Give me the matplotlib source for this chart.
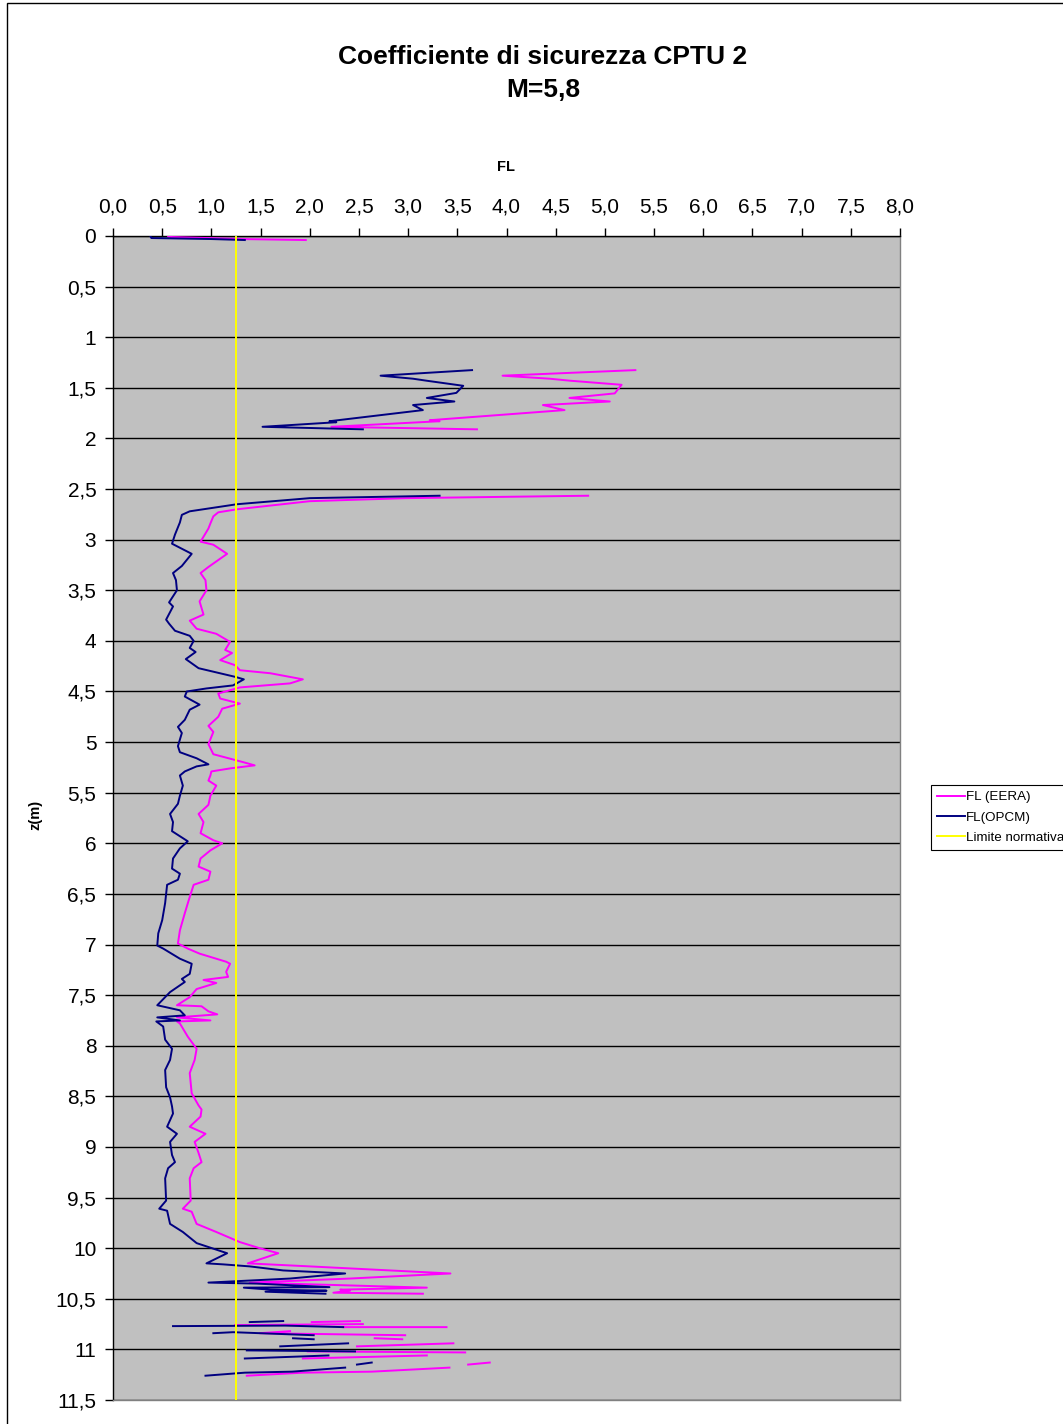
import numpy as np
import matplotlib
matplotlib.use('Agg')
import matplotlib.pyplot as plt
from matplotlib.ticker import FuncFormatter, MultipleLocator
from matplotlib.patches import Rectangle

plt.rcParams['font.family'] = ['Liberation Sans', 'DejaVu Sans']

nan = np.nan

# FL (OPCM) - depth z(m) and safety factor, nan = gap in the record
z_opcm = [0.0, 0.02, 0.03, 0.04, nan,
          1.325, 1.38, 1.41, 1.43, 1.48, 1.55, 1.60, 1.635, 1.67, 1.72, 1.83, 1.84, 1.885, 1.91, nan,
          2.566, 2.59, 2.65, 2.72, 2.755, 2.83, 2.95, 3.04, 3.14, 3.26, 3.33, 3.40, 3.50, 3.62, 3.66,
          3.79, 3.83, 3.90, 3.95, 4.00, 4.07, 4.11, 4.18, 4.27, 4.32, 4.355, 4.38, 4.44, 4.47, 4.50,
          4.55, 4.63, 4.68, 4.78, 4.85, 4.91, 5.04, 5.10, 5.16, 5.22, 5.24, 5.29, 5.33, 5.43, 5.53,
          5.61, 5.71, 5.79, 5.88, 5.98, 6.05, 6.15, 6.25, 6.30, 6.36, 6.41, 6.59, 6.76, 6.89, 7.01,
          7.04, 7.14, 7.19, 7.29, 7.34, 7.37, 7.47, 7.60, 7.65, 7.70, 7.72, 7.75, 7.76, 7.81, 7.94,
          8.03, 8.14, 8.24, 8.41, 8.51, 8.60, 8.67, 8.80, 8.87, 8.95, 9.08, 9.15, 9.21, 9.31, 9.53,
          9.61, 9.63, 9.76, 9.84, 9.95, 10.05, 10.15, 10.16, 10.18, 10.22, 10.25, 10.30, 10.34, 10.35,
          10.385, 10.39, 10.41, 10.42, 10.43, 10.45, nan,
          10.73, 10.72, nan, 10.77, 10.765, 10.78, nan, 10.84, 10.83, 10.86, nan, 10.89, 10.90, nan,
          10.97, 10.94, nan, 11.01, 11.02, nan, 11.09, 11.06, nan, 11.15, 11.13, nan,
          11.26, 11.23, 11.22, 11.18]
fl_opcm = [0.38, 0.39, 1.00, 1.34, nan,
           3.65, 2.72, 3.05, 3.19, 3.56, 3.49, 3.19, 3.47, 3.05, 3.15, 2.20, 2.27, 1.52, 2.54, nan,
           3.32, 2.00, 1.26, 0.78, 0.70, 0.68, 0.63, 0.60, 0.80, 0.70, 0.61, 0.64, 0.65, 0.57, 0.61,
           0.54, 0.57, 0.63, 0.78, 0.82, 0.78, 0.84, 0.74, 0.87, 1.09, 1.24, 1.33, 1.22, 0.95, 0.75,
           0.73, 0.88, 0.78, 0.73, 0.66, 0.70, 0.66, 0.68, 0.85, 0.97, 0.85, 0.73, 0.68, 0.71, 0.68,
           0.66, 0.58, 0.61, 0.60, 0.76, 0.68, 0.61, 0.60, 0.68, 0.66, 0.55, 0.53, 0.50, 0.46, 0.45,
           0.51, 0.68, 0.80, 0.78, 0.70, 0.73, 0.58, 0.45, 0.68, 0.73, 0.45, 0.68, 0.44, 0.51, 0.53,
           0.60, 0.58, 0.53, 0.54, 0.58, 0.60, 0.61, 0.55, 0.65, 0.58, 0.60, 0.63, 0.56, 0.53, 0.54,
           0.47, 0.55, 0.58, 0.71, 0.85, 1.16, 0.95, 1.12, 1.39, 1.73, 2.36, 1.80, 0.97, 1.46,
           2.20, 1.33, 1.60, 2.17, 1.55, 2.16, nan,
           1.39, 1.73, nan, 0.61, 1.75, 2.34, nan, 1.02, 1.22, 2.04, nan, 1.83, 2.04, nan,
           1.70, 2.39, nan, 1.36, 2.46, nan, 1.34, 2.19, nan, 2.48, 2.63, nan,
           0.94, 1.34, 1.82, 2.36]

# FL (EERA)
z_eera = [0.0, 0.01, 0.03, 0.04, nan,
          1.325, 1.38, 1.41, 1.43, 1.47, 1.555, 1.60, 1.635, 1.67, 1.72, 1.82, 1.83, 1.885, 1.91, nan,
          2.566, 2.59, 2.62, 2.70, 2.73, 2.77, 2.84, 2.89, 3.02, 3.05, 3.14, 3.27, 3.33, 3.40, 3.50,
          3.61, 3.74, 3.80, 3.88, 3.93, 4.01, 4.09, 4.12, 4.19, 4.24, 4.29, 4.32, 4.38, 4.42, 4.46,
          4.52, 4.57, 4.62, 4.67, 4.75, 4.84, 4.90, 5.02, 5.12, 5.20, 5.23, 5.26, 5.29, 5.33, 5.38,
          5.43, 5.53, 5.62, 5.71, 5.79, 5.90, 5.97, 6.00, 6.07, 6.15, 6.23, 6.28, 6.36, 6.41, 6.53,
          6.69, 6.86, 6.99, 7.04, 7.09, 7.17, 7.19, 7.27, 7.32, 7.35, 7.38, 7.44, 7.52, 7.60, 7.61,
          7.66, 7.69, 7.72, 7.75, 7.76, 7.78, 7.91, 8.03, 8.14, 8.27, 8.47, 8.59, 8.63, 8.70, 8.80,
          8.87, 8.95, 9.06, 9.15, 9.21, 9.31, 9.53, 9.61, 9.64, 9.76, 9.84, 9.94, 10.00, 10.05, 10.15,
          10.18, 10.25, 10.30, 10.34, 10.36, 10.39, 10.41, 10.42, 10.44, 10.45, nan,
          10.73, 10.72, nan, 10.76, 10.75, nan, 10.78, 10.78, nan, 10.82, 10.84, 10.86, nan,
          10.89, 10.90, nan, 10.97, 10.94, nan, 11.02, 11.03, nan, 11.09, 11.06, nan,
          11.15, 11.13, nan, 11.26, 11.23, 11.22, 11.18]
fl_eera = [0.56, 0.60, 1.30, 1.96, nan,
           5.31, 3.96, 4.44, 4.65, 5.17, 5.10, 4.64, 5.05, 4.37, 4.59, 3.22, 3.32, 2.22, 3.70, nan,
           4.83, 2.98, 2.00, 1.26, 1.07, 1.02, 0.99, 0.97, 0.89, 1.02, 1.16, 0.97, 0.89, 0.94, 0.95,
           0.88, 0.92, 0.78, 0.85, 1.05, 1.19, 1.14, 1.21, 1.09, 1.24, 1.29, 1.60, 1.93, 1.80, 1.29,
           1.07, 1.09, 1.29, 1.11, 1.07, 0.97, 1.02, 0.97, 1.02, 1.33, 1.44, 1.19, 1.00, 0.99, 0.97,
           1.05, 0.99, 0.97, 0.87, 0.92, 0.89, 1.02, 1.11, 0.99, 0.89, 0.87, 0.99, 0.97, 0.82, 0.78,
           0.73, 0.68, 0.66, 0.76, 0.88, 1.15, 1.19, 1.15, 1.17, 0.92, 1.05, 0.85, 0.78, 0.65, 0.90,
           0.97, 1.06, 0.65, 0.99, 0.65, 0.68, 0.76, 0.85, 0.83, 0.78, 0.80, 0.87, 0.90, 0.89, 0.78,
           0.94, 0.83, 0.87, 0.90, 0.82, 0.78, 0.79, 0.71, 0.80, 0.85, 1.05, 1.29, 1.49, 1.68, 1.37,
           2.00, 3.43, 2.41, 1.39, 2.10, 3.19, 2.31, 2.41, 2.24, 3.15, nan,
           2.02, 2.51, nan, 1.24, 2.54, nan, 2.34, 3.39, nan, 1.80, 1.49, 2.97, nan,
           2.66, 2.94, nan, 2.48, 3.46, nan, 1.98, 3.58, nan, 1.93, 3.19, nan,
           3.61, 3.83, nan, 1.36, 1.93, 2.63, 3.42]

# Limite normativa
z_lim = [0.0, 11.5]
fl_lim = [1.25, 1.25]

W, H = 1063, 1424
fig = plt.figure(figsize=(W / 100, H / 100), dpi=100, facecolor='white')
ax = fig.add_axes([113 / W, 1 - 1400 / H, 787 / W, 1164 / H])
ax.set_facecolor('#C0C0C0')

ax.plot(fl_eera, z_eera, color='#FF00FF', lw=1.4, label='FL (EERA)', zorder=3)
ax.plot(fl_opcm, z_opcm, color='#000080', lw=1.4, label='FL(OPCM)', zorder=3)
ax.plot(fl_lim, z_lim, color='#FFFF00', lw=1.4, label='Limite normativa', zorder=4)

ax.set_xlim(0, 8)
ax.set_ylim(11.5, 0)
ax.xaxis.tick_top()
ax.xaxis.set_major_locator(MultipleLocator(0.5))
ax.yaxis.set_major_locator(MultipleLocator(0.5))
ax.xaxis.set_major_formatter(FuncFormatter(lambda v, p: ('%.1f' % v).replace('.', ',')))
ax.yaxis.set_major_formatter(FuncFormatter(lambda v, p: ('%g' % v).replace('.', ',')))
ax.tick_params(axis='x', which='major', direction='out', length=6, width=1, pad=8, labelsize=15)
ax.tick_params(axis='y', which='major', direction='out', length=6, width=1, pad=6, labelsize=15)

ax.yaxis.grid(True, color='black', lw=1.0)
ax.set_axisbelow(True)
for s in ['left', 'top']:
    ax.spines[s].set_color('black')
    ax.spines[s].set_linewidth(1.0)
for s in ['right', 'bottom']:
    ax.spines[s].set_color('#808080')
    ax.spines[s].set_linewidth(1.0)

fig.text(543 / W, 1 - 57 / H, 'Coefficiente di sicurezza CPTU 2', ha='center', va='center',
         fontsize=19, fontweight='bold')
fig.text(543 / W, 1 - 90 / H, 'M=5,8', ha='center', va='center', fontsize=19, fontweight='bold')
fig.text(506 / W, 1 - 167 / H, 'FL', ha='center', va='center', fontsize=10.5, fontweight='bold')
fig.text(35 / W, 1 - 815 / H, 'z(m)', ha='center', va='center', fontsize=10.5, fontweight='bold',
         rotation=90)

leg = fig.legend(loc='upper left', bbox_to_anchor=(931 / W, 1 - 785 / H), bbox_transform=fig.transFigure,
                 fontsize=9.6, frameon=True, fancybox=False, framealpha=1, edgecolor='black',
                 handlelength=2.1, handletextpad=0.1, borderpad=0.45, labelspacing=0.6, borderaxespad=0)
leg.get_frame().set_linewidth(0.8)

# outer chart border (clipped by the image on right and bottom)
fig.add_artist(Rectangle((7 / W, -0.1), 1.2, 1.1 - 3 / H, transform=fig.transFigure,
                         fill=False, edgecolor='black', lw=1.0))

fig.savefig('out.png', dpi=100, facecolor='white')
